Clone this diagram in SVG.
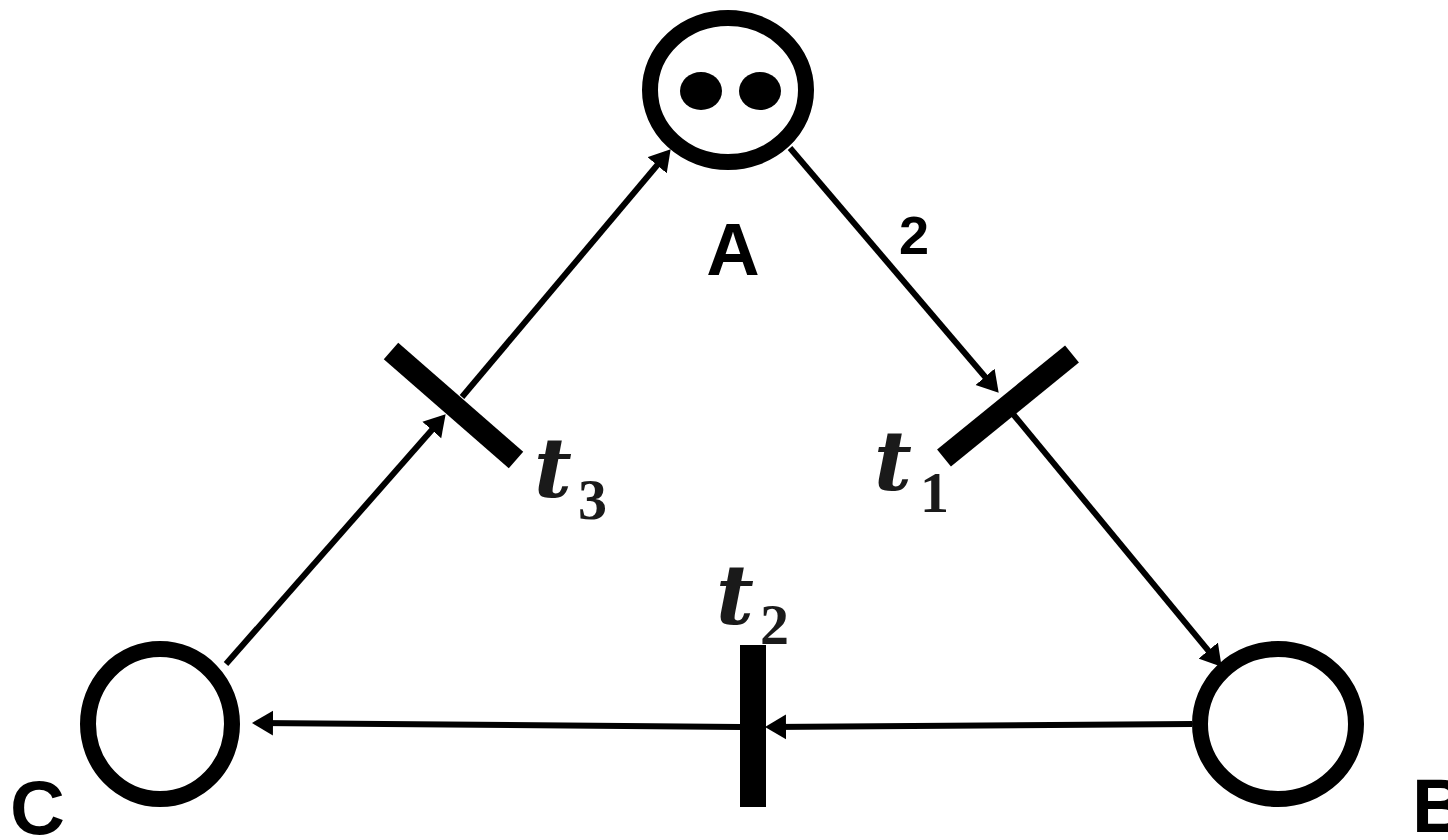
<svg xmlns="http://www.w3.org/2000/svg" width="1448" height="840" viewBox="0 0 1448 840">
<style>
.place{fill:#fff;stroke:#000;stroke-width:16}
.bar{stroke:#000;stroke-width:22;stroke-linecap:butt}
.arc{stroke:#000;stroke-width:6;fill:none;marker-end:url(#ah)}
.lbl{font-family:"Liberation Sans",Arial,sans-serif;font-weight:bold;fill:#000}
.tl{font-family:"DejaVu Serif","Liberation Serif",serif;font-weight:bold;font-style:italic;fill:#1a1a1a}
.ts{font-family:"Liberation Serif","DejaVu Serif",serif;font-weight:bold;fill:#1a1a1a}
</style>
<defs>
<marker id="ah" markerUnits="userSpaceOnUse" markerWidth="22" markerHeight="26" refX="15" refY="13" orient="auto">
<path d="M0,0.5 L21,13 L0,25.5 Z" fill="#000"/>
</marker>
</defs>
<rect width="1448" height="840" fill="#fff"/>
<g id="connectors">
<line class="arc" x1="790" y1="148" x2="994.8" y2="388.2"/>
<line class="arc" x1="1013" y1="414" x2="1217.8" y2="662.1"/>
<line class="arc" x1="1192" y1="724" x2="771" y2="727"/>
<line class="arc" x1="740" y1="727" x2="258" y2="723"/>
<line class="arc" x1="226" y1="664" x2="441.7" y2="418.8"/>
<line class="arc" x1="462" y1="397" x2="666.8" y2="153.8"/>
<text class="lbl" x="914" y="254" font-size="54" text-anchor="middle">2</text>
</g>
<g id="placeA">
<ellipse class="place" cx="728" cy="90" rx="78" ry="72"/>
<ellipse cx="701" cy="91" rx="21" ry="19" fill="#000"/>
<ellipse cx="760" cy="91" rx="21" ry="19" fill="#000"/>
<text class="lbl" x="733" y="275" font-size="74" text-anchor="middle">A</text>
</g>
<g id="placeB">
<ellipse class="place" cx="1278" cy="724" rx="78" ry="75"/>
<text class="lbl" x="1412" y="832" font-size="76">B</text>
</g>
<g id="placeC">
<ellipse class="place" cx="160" cy="724" rx="72" ry="75"/>
<text class="lbl" x="10" y="834" font-size="76" style="font-weight:600">C</text>
</g>
<g id="t1">
<line class="bar" x1="1072" y1="354" x2="944" y2="458"/>
<text class="tl" x="874" y="490" font-size="82">t</text>
<text class="ts" x="920" y="512" font-size="58">1</text>
</g>
<g id="t2">
<line class="bar" x1="753" y1="645" x2="753" y2="807" style="stroke-width:26"/>
<text class="tl" x="716" y="624" font-size="82">t</text>
<text class="ts" x="760" y="644" font-size="58">2</text>
</g>
<g id="t3">
<line class="bar" x1="391" y1="351" x2="516" y2="460"/>
<text class="tl" x="534" y="497" font-size="82">t</text>
<text class="ts" x="578" y="519" font-size="58">3</text>
</g>
</svg>
